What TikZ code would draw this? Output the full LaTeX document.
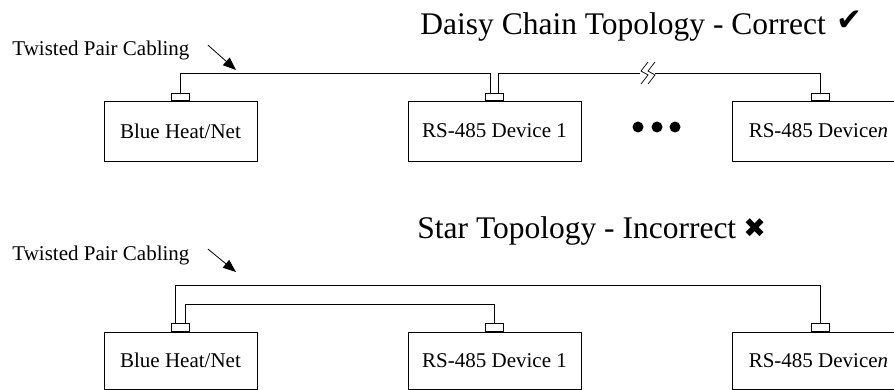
\documentclass[tikz,border=0pt]{standalone}
\usepackage{fontspec}
\setmainfont{Liberation Serif}
\newfontfamily\symfont{DejaVu Sans}
\usetikzlibrary{positioning, arrows.meta}

\begin{document}
\begin{tikzpicture}[x=1pt, y=-1pt, line width=0.8pt,
    devbox/.style={draw, inner sep=0pt, minimum height=60pt, font=\fontsize{21}{25}\selectfont},
    plug/.style={draw, inner sep=0pt, minimum width=18pt, minimum height=7pt, anchor=south},
    title/.style={anchor=base west, inner sep=0pt, font=\fontsize{31.5}{36}\selectfont},
    cablelabel/.style={anchor=base west, inner sep=0pt, font=\fontsize{21}{25}\selectfont},
    verdict/.style={anchor=base west, inner sep=0pt},
    pointer/.style={-{Triangle[length=13pt,width=10pt]}, line width=0.8pt}]
  \useasboundingbox (0,0) rectangle (894,390);

  % daisy chain
  \node[title] (daisy) at (420,35) {Daisy Chain Topology - Correct};
  \node[verdict, font=\symfont\fontsize{31}{34}\selectfont] (tick) at (836,31) {✔};
  \node[cablelabel] (lblA) at (12,56) {Twisted Pair Cabling};
  \coordinate (tipA) at (236,70);
  \draw[pointer] ([xshift=18pt,yshift=6pt]lblA.east) -- (tipA);

  \node[devbox, minimum width=153pt] (blueA) at (180.5,131) {Blue Heat/Net};
  \node[devbox, minimum width=173pt] (devA1) at (494.5,131) {RS-485 Device 1};
  \node[devbox, minimum width=173pt] (devAn) at (818.5,131) {RS-485 Device\textit{n}};
  \node[plug] (plugA0) at (blueA.north) {};
  \node[plug] (plugA1) at (devA1.north) {};
  \node[plug] (plugAn) at ([xshift=1.5pt]devAn.north) {};

  \coordinate (busA) at (0,73);
  \coordinate (brkL) at (640,73);
  \coordinate (brkR) at (655,73);
  \draw (plugA0.north) |- ([xshift=-4pt]plugA1.north |- busA) -- ([xshift=-4pt]plugA1.north);
  \draw ([xshift=4pt]plugA1.north) |- (brkL);
  \draw (brkR) -| (plugAn.north);
  \foreach \dx in {644,651}
    \draw[line width=0.7pt] (\dx+4,62) -- (\dx-3,71) -- (\dx+4,75) -- (\dx-3,84);
  \foreach \x in {638,657,675}
    \fill (\x,127) circle (5.5pt);

  % star
  \node[title] (star) at (417,239) {Star Topology - Incorrect};
  \node[verdict, font=\symfont\fontsize{27}{30}\selectfont] (cross) at (743,237) {✖};
  \node[cablelabel] (lblB) at (12,260) {Twisted Pair Cabling};
  \coordinate (tipB) at (236,272);
  \draw[pointer] ([xshift=18pt,yshift=6pt]lblB.east) -- (tipB);

  \node[devbox, minimum width=153pt, minimum height=57pt] (blueB) at (180.5,360.5) {Blue Heat/Net};
  \node[devbox, minimum width=173pt, minimum height=57pt] (devB1) at (494.5,360.5) {RS-485 Device 1};
  \node[devbox, minimum width=173pt, minimum height=57pt] (devBn) at (818.5,360.5) {RS-485 Device\textit{n}};
  \node[plug, minimum height=8pt] (plugB0) at (blueB.north) {};
  \node[plug, minimum height=8pt] (plugB1) at (devB1.north) {};
  \node[plug, minimum height=8pt] (plugBn) at ([xshift=1.5pt]devBn.north) {};

  \coordinate (busB) at (0,285);
  \coordinate (busC) at (0,304);
  \draw ([xshift=-5pt]plugB0.north) |- (plugBn.north |- busB) -- (plugBn.north);
  \draw ([xshift=5pt]plugB0.north) |- (plugB1.north |- busC) -- (plugB1.north);
\end{tikzpicture}
\end{document}
